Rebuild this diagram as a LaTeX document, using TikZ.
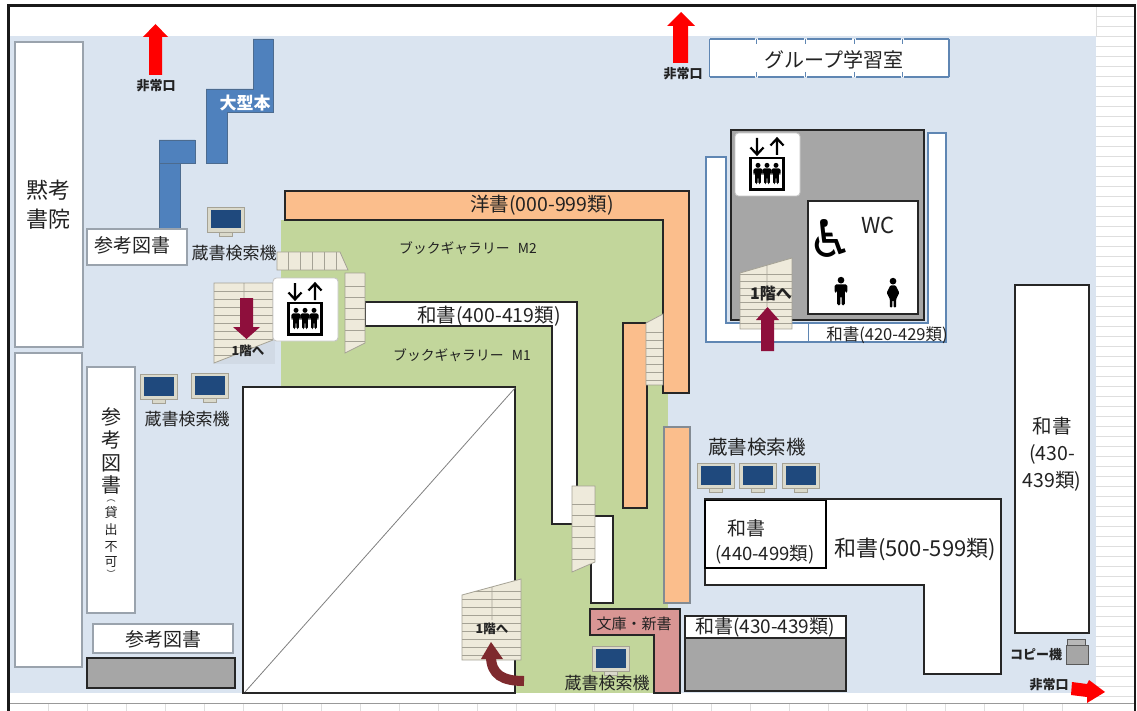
\documentclass[tikz,border=0pt]{standalone}
\usepackage{fontspec}
\setmainfont{Noto Sans CJK JP}
\newfontfamily\symfont{DejaVu Sans}
\definecolor{bgblue}{HTML}{DAE4F0}
\definecolor{galgreen}{HTML}{C2D69B}
\definecolor{shelforange}{HTML}{FBBE8C}
\definecolor{shelfblue}{HTML}{4F81BD}
\definecolor{edgeblue}{HTML}{5F86B3}
\definecolor{edgegray}{HTML}{9AA3AD}
\definecolor{pinkshelf}{HTML}{D99694}
\definecolor{midgray}{HTML}{A6A6A6}
\definecolor{stairfill}{HTML}{EEEADB}
\definecolor{stairline}{HTML}{A5A295}
\definecolor{wine}{HTML}{8E0F3C}
\definecolor{brownred}{HTML}{7E2A2E}
\definecolor{gridline}{HTML}{DEDEDE}
\definecolor{screenblue}{HTML}{1F497D}
\definecolor{monframe}{HTML}{DAD9CB}
\definecolor{txt}{HTML}{222222}
\tikzset{
  blackshelf/.style={draw=black!85,line width=1.7pt},
  blueedge/.style={draw=edgeblue,line width=1.2pt,fill=white},
  grayedge/.style={draw=edgegray,line width=1.1pt,fill=white},
  bluebook/.style={fill=shelfblue,draw=edgeblue!80!black,line width=.9pt},
  label/.style={inner sep=0pt,text=txt,align=center},
  stairedge/.style={draw=stairline,line width=.8pt},
}
\newcommand{\pcicon}[2]{%
  \begin{scope}[shift={(#1,#2)}]
    \draw[stairline,fill=monframe,line width=.4pt] (12,25) rectangle (25,29);
    \draw[stairline,fill=monframe,line width=.6pt] (0,0) rectangle (37,25);
    \fill[screenblue] (3.5,3) rectangle (33.5,21.5);
  \end{scope}}
\newcommand{\manicon}[3]{%
  \begin{scope}[shift={(#1,#2)},scale=#3]
    \fill[black] (0,3) circle (3.2);
    \fill[black,rounded corners=1.5] (-6,15) -- (-6,7) -- (6,7) -- (6,15) -- (4,15) -- (3.6,11) -- (3.6,27) -- (.5,27) -- (.5,18) -- (-.5,18) -- (-.5,27) -- (-3.6,27) -- (-3.6,11) -- (-4,15) -- cycle;
  \end{scope}}
\newcommand{\womanicon}[3]{%
  \begin{scope}[shift={(#1,#2)},scale=#3]
    \fill[black] (0,3) circle (3.2);
    \fill[black,rounded corners=1] (-2.5,7) -- (2.5,7) -- (6,14) -- (3,20) -- (3,28) -- (.5,28) -- (.5,21) -- (-.5,21) -- (-.5,28) -- (-3,28) -- (-3,20) -- (-6,14) -- cycle;
  \end{scope}}
\newcommand{\elevicon}[2]{%
  \begin{scope}[shift={(#1,#2)}]
    \draw[draw=gray!45,fill=white,line width=.9pt,rounded corners=3.5] (0,0) rectangle (65,63);
    \draw[black,line width=2.2pt,line join=miter] (22,5) -- (22,21) (15.5,14.5) -- (22,21.5) -- (28.5,14.5);
    \draw[black,line width=2.2pt,line join=miter] (42,22) -- (42,6) (35.5,12.5) -- (42,5.5) -- (48.5,12.5);
    \draw[black,line width=2.3pt,fill=white] (15.5,25) rectangle (48.5,56.5);
    \manicon{23}{30}{.78}
    \manicon{32}{30}{.78}
    \manicon{41}{30}{.78}
  \end{scope}}
\begin{document}
\begin{tikzpicture}[x=1pt,y=-1pt,line join=miter]
\useasboundingbox (0,0) rectangle (1137,711);
\fill[white] (0,0) rectangle (1137,711);
% spreadsheet grid visible behind the plan
\foreach \g in {16,26,...,696} \draw[gridline,line width=.5pt] (1096,\g) -- (1135,\g);
\foreach \g in {48,87,...,1100} \draw[gridline,line width=.5pt] (\g,703) -- (\g,711);
\draw[gridline,line width=.6pt] (1096,6) -- (1096,36);
% floor
\fill[bgblue] (9,36) rectangle (1096,693);
\fill[galgreen] (281,220) rectangle (668,693);
\draw[gray!80,line width=1.2pt] (9,703.5) -- (1135,703.5);
% frame
\draw[black!90,line width=2.6pt] (8.5,711) -- (8.5,5.5) -- (1135,5.5) -- (1135,711);
% left white rooms
\draw[grayedge] (15,42) rectangle (83,347);
\draw[grayedge] (15,353) rectangle (82,667);
\draw[grayedge] (87,367) rectangle (135,613);
\draw[grayedge] (93,624) rectangle (233,653);
\draw[blackshelf,fill=midgray] (87,658) rectangle (235,688);
% big void
\draw[blackshelf,fill=white] (243,693) -- (243,387) -- (515,387) -- (515,693) -- cycle;
\draw[gray,line width=.8pt] (245,692) -- (515,388);
% large-format shelves
\draw[bluebook] (253,39) -- (273,39) -- (273,112) -- (227,112) -- (227,163) -- (206,163) -- (206,89) -- (253,89) -- cycle;
\draw[bluebook] (159,140) -- (195,140) -- (195,163) -- (180,163) -- (180,229) -- (159,229) -- cycle;
\draw[edgeblue!80!black,line width=.7pt] (159,163) -- (180,163);
\node[label,text=white,font=\fontsize{17}{17}\selectfont\bfseries] (dai) at (245,103) {大型本};
% exits
\fill[red] (149,75) -- (149,37) -- (143,37) -- (155.5,24) -- (168,37) -- (162,37) -- (162,75) -- cycle;
\fill[red] (673,63) -- (673,26) -- (667,26) -- (681,12) -- (695,26) -- (688,26) -- (688,63) -- cycle;
\fill[red] (1072,682) -- (1087,684) -- (1089,680) -- (1105,692) -- (1087,703) -- (1087,697) -- (1071,695) -- cycle;
\node[label,font=\fontsize{13}{13}\selectfont\bfseries] (ex1) at (156,86) {非常口};
\node[label,font=\fontsize{13}{13}\selectfont\bfseries] (ex2) at (683,74) {非常口};
\node[label,font=\fontsize{13}{13}\selectfont\bfseries] (ex3) at (1049,685) {非常口};
% group rooms
\fill[white] (709.5,39) rectangle (949,77);
\foreach \a/\b in {709.5/755,758/804,807/852,856/901,904/949}{
  \draw[edgeblue,line width=1.1pt] (\a,39) -- (\b,39) (\a,77) -- (\b,77);
}
\draw[edgeblue,line width=1.1pt] (709.5,39) -- (709.5,77) (949,39) -- (949,77);
\foreach \a in {756.5,805.5,854,902.5}{
  \draw[edgeblue,line width=.9pt] (\a,39) -- (\a,44) (\a,72) -- (\a,77);
}
\node[label,font=\fontsize{20}{20}\selectfont] (group) at (834,60) {グループ学習室};
% left labels
\node[label,font=\fontsize{22}{29}\selectfont] (moku) at (49,205) {黙考\\書院};
\draw[grayedge] (87,229) rectangle (187,265);
\node[label,font=\fontsize{19}{19}\selectfont] (sanko1) at (132,245) {参考図書};
\node[label,font=\fontsize{19}{19}\selectfont] (sanko2) at (163,639) {参考図書};
\node[label,font=\fontsize{20}{20}\selectfont] at (111,417) (v1) {参};
\node[label,font=\fontsize{20}{20}\selectfont] at (111,440) (v2) {考};
\node[label,font=\fontsize{20}{20}\selectfont] at (111,463) (v3) {図};
\node[label,font=\fontsize{20}{20}\selectfont] at (111,485) (v4) {書};
\node[label,font=\fontsize{9}{9}\selectfont] at (111,500.5) (v5) {︵};
\node[label,font=\fontsize{13}{13}\selectfont] at (111,513) (v6) {貸};
\node[label,font=\fontsize{13}{13}\selectfont] at (111,530) (v7) {出};
\node[label,font=\fontsize{13}{13}\selectfont] at (111,547) (v8) {不};
\node[label,font=\fontsize{13}{13}\selectfont] at (111,562) (v9) {可};
\node[label,font=\fontsize{9}{9}\selectfont] at (111,574) (v10) {︶};
% monitors
\pcicon{207}{207}
\pcicon{140}{374}
\pcicon{191}{373}
\pcicon{697}{463}
\pcicon{739}{463}
\pcicon{782}{463}
\pcicon{592}{646}
\node[label,font=\fontsize{17}{17}\selectfont] (kensaku1) at (234,253) {蔵書検索機};
\node[label,font=\fontsize{17}{17}\selectfont] (kensaku2) at (187,419) {蔵書検索機};
\node[label,font=\fontsize{19.5}{19.5}\selectfont] (kensaku3) at (757,447) {蔵書検索機};
\node[label,font=\fontsize{17}{17}\selectfont] (kensaku4) at (607,683) {蔵書検索機};
% orange shelves
\draw[blackshelf,fill=shelforange] (285,191) -- (689,191) -- (689,393) -- (663,393) -- (663,220) -- (285,220) -- cycle;
\draw[blackshelf,fill=shelforange] (623,323) rectangle (647,508);
\draw[draw=edgegray!85!black,line width=1.3pt,fill=shelforange] (664,427) rectangle (690,603);
\node[label,font=\fontsize{19.5}{19.5}\selectfont] (yosho) at (542,205) {洋書(000-999類)};
% white L shelves
\draw[blackshelf,fill=white] (365,302) -- (577,302) -- (577,524) -- (552,524) -- (552,326) -- (365,326) -- cycle;
\draw[blackshelf,fill=white] (591,516) rectangle (613,603);
\node[label,font=\fontsize{19.5}{19.5}\selectfont] (wa400) at (489,316) {和書(400-419類)};
\node[label,font=\fontsize{13.8}{13.8}\selectfont] (m2) at (468,248) {ブックギャラリー\hspace{.6em}M2};
\node[label,font=\fontsize{13.8}{13.8}\selectfont] (m1) at (462,355) {ブックギャラリー\hspace{.6em}M1};
% stairs, upper left
\fill[bgblue!90!gray] (214,283) rectangle (275,364);
\begin{scope}
  \clip (214,283) -- (273,283) -- (273,340) -- (214,363) -- cycle;
  \fill[stairfill] (214,283) rectangle (273,364);
  \foreach \g in {291,299,...,363} \draw[stairline,line width=.7pt] (214,\g) -- (273,\g);
\end{scope}
\draw[stairedge] (214,363) -- (214,283) -- (273,283) -- (273,340) -- cycle (244,283) -- (244,298);
\fill[wine] (240,298) -- (253,298) -- (253,327) -- (260,327) -- (246.5,339) -- (233,327) -- (240,327) -- cycle;
\node[label,font=\fontsize{12.5}{12.5}\selectfont\bfseries] (st1) at (248,351) {1階へ};
% stairs, top
\begin{scope}
  \clip (277,252) -- (340,252) -- (348,270) -- (277,270) -- cycle;
  \fill[stairfill] (277,252) rectangle (348,270);
  \foreach \g in {288,300,...,348} \draw[stairline,line width=.7pt] (\g,252) -- (\g,270);
\end{scope}
\draw[stairedge] (277,270) -- (277,252) -- (340,252) -- (348,270) -- cycle;
% stairs, right of lift
\begin{scope}
  \clip (345,273) -- (365,273) -- (365,343) -- (345,353) -- cycle;
  \fill[stairfill] (345,273) rectangle (365,353);
  \foreach \g in {286,297,...,343} \draw[stairline,line width=.7pt] (345,\g) -- (365,\g);
\end{scope}
\draw[stairedge] (345,353) -- (345,273) -- (365,273) -- (365,343) -- cycle;
\elevicon{273}{278}
% stairs, upper right of gallery
\begin{scope}
  \clip (646,323) -- (663,314) -- (663,385) -- (646,385) -- cycle;
  \fill[stairfill] (646,313) rectangle (663,385);
  \foreach \g in {332,340,...,385} \draw[stairline,line width=.7pt] (646,\g) -- (663,\g);
\end{scope}
\draw[stairedge] (646,323) -- (663,314) -- (663,385) -- (646,385) -- cycle;
% stairs, mid
\begin{scope}
  \clip (572,486) -- (595,486) -- (595,562) -- (572,572) -- cycle;
  \fill[stairfill] (572,486) rectangle (595,572);
  \foreach \g in {504,515,...,565} \draw[stairline,line width=.7pt] (572,\g) -- (595,\g);
\end{scope}
\draw[stairedge] (572,572) -- (572,486) -- (595,486) -- (595,562) -- cycle;
% stairs, bottom
\begin{scope}
  \clip (462,595) -- (521,579) -- (521,660) -- (462,660) -- cycle;
  \fill[stairfill] (462,579) rectangle (521,660);
  \foreach \g in {591,599,...,660} \draw[stairline,line width=.7pt] (462,\g) -- (521,\g);
\end{scope}
\draw[stairedge] (462,595) -- (521,579) -- (521,660) -- (462,660) -- cycle (492,587) -- (492,620);
\node[label,font=\fontsize{12.5}{12.5}\selectfont\bfseries] (st3) at (492,629) {1階へ};
\draw[brownred,line width=10pt] (524,681) .. controls (503,681) and (491,675) .. (491,656);
\fill[brownred] (481,659) -- (491,642) -- (503,659) -- cycle;
% pink shelf
\draw[blackshelf,fill=pinkshelf] (590,609) -- (680,609) -- (680,693) -- (654,693) -- (654,635) -- (590,635) -- cycle;
\node[label,font=\fontsize{15}{15}\selectfont] (bunko) at (634,624) {文庫・新書};
% shelves lower right
\draw[blackshelf,fill=white] (685,616) rectangle (846,638);
\draw[blackshelf,fill=midgray] (685,638) rectangle (846,691);
\node[label,font=\fontsize{19}{19}\selectfont] (wa430b) at (765,627) {和書(430-439類)};
\draw[blackshelf,fill=white] (705,499) -- (1001,499) -- (1001,674) -- (924,674) -- (924,585) -- (705,585) -- cycle;
\draw[black,line width=1.9pt,fill=white] (705,500.5) rectangle (826,568);
\node[label,font=\fontsize{19}{19}\selectfont] (wa440a) at (746,528) {和書};
\node[label,font=\fontsize{18.5}{18.5}\selectfont] (wa440b) at (765,555) {(440-499類)};
\node[label,font=\fontsize{22}{22}\selectfont] (wa500) at (915,549) {和書(500-599類)};
% right shelf
\draw[blackshelf,fill=white] (1015,285) rectangle (1089,633);
\node[label,font=\fontsize{19.5}{27}\selectfont] (wa430a) at (1052,454) {和書\\(430-\\439類)};
% copier
\node[label,font=\fontsize{13}{13}\selectfont\bfseries] (copy) at (1036,655) {コピー機};
\draw[gray!70!black,fill=midgray!80!white,line width=.5pt] (1067,639) rectangle (1085,646);
\draw[gray!70!black,fill=midgray,line width=.5pt] (1066,645) rectangle (1088,664);
% WC block with surrounding shelf
\draw[blueedge] (706,157) -- (726,157) -- (726,323) -- (928,323) -- (928,133) -- (946,133) -- (946,342) -- (706,342) -- cycle;
\draw[edgeblue,line width=.9pt] (808,323) -- (808,342);
\draw[black!85,line width=2.2pt,fill=midgray] (731,130) rectangle (924,320);
\draw[black!85,line width=1.7pt,fill=white] (808,201) rectangle (918,314);
\elevicon{735}{133}
\node[label,font=\fontsize{22}{22}\selectfont] (wc) at (878,225) {WC};
\node[label,text=black,font=\symfont\fontsize{52}{52}\selectfont] (chair) at (831,238) {♿};
\manicon{841}{277}{1.05}
\womanicon{893}{278}{1.05}
\begin{scope}
  \clip (740,273) -- (792,258) -- (792,329) -- (740,329) -- cycle;
  \fill[stairfill] (740,258) rectangle (792,329);
  \foreach \g in {274,281,...,329} \draw[stairline,line width=.7pt] (740,\g) -- (792,\g);
\end{scope}
\draw[stairedge] (740,273) -- (792,258) -- (792,329) -- (740,329) -- cycle (767,266) -- (767,307);
\node[label,font=\fontsize{16}{16}\selectfont\bfseries] (st2) at (771,294) {1階へ};
\fill[wine] (761,351) -- (761,320) -- (756,320) -- (767.5,307) -- (779,320) -- (774,320) -- (774,351) -- cycle;
\node[label,font=\fontsize{16.5}{16.5}\selectfont] (wa420) at (887,335) {和書(420-429類)};
\end{tikzpicture}
\end{document}
